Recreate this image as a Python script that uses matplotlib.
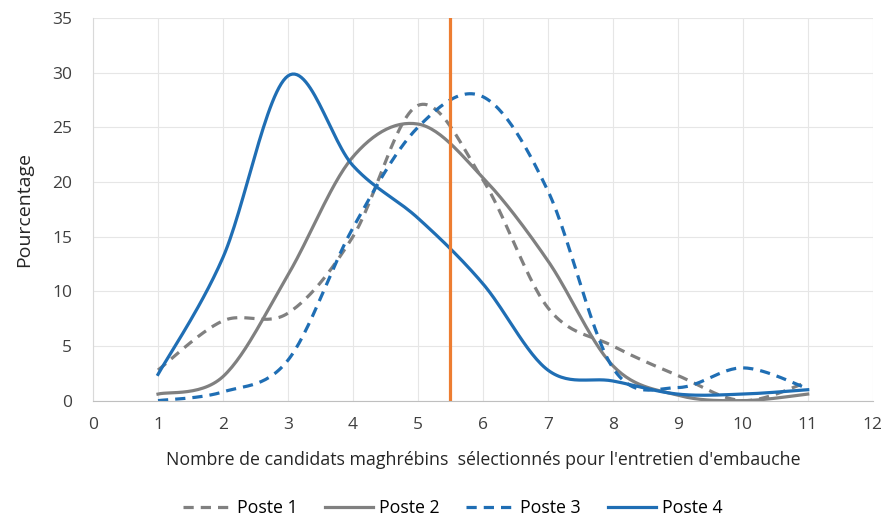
import numpy as np
import matplotlib.pyplot as plt

x = [1, 2, 3, 4, 5, 6, 7, 8, 9, 10, 11]
poste1 = [2.8, 7.3, 8.0, 15.0, 27.0, 20.2, 8.5, 5.0, 2.3, 0.0, 1.7]
poste2 = [0.6, 2.2, 11.5, 22.3, 25.3, 20.4, 12.8, 3.2, 0.5, 0.0, 0.6]
poste3 = [0.0, 0.8, 3.7, 15.8, 25.0, 27.8, 19.2, 3.0, 1.2, 3.0, 1.1]
poste4 = [2.4, 13.1, 29.7, 21.5, 16.7, 10.7, 2.8, 1.8, 0.6, 0.6, 1.0]
seuil = 5.5

labels = ["Poste 1", "Poste 2", "Poste 3", "Poste 4"]
gray = "#808080"
blue = "#1F6EB4"


def smooth(xs, ys, n=30):
    # Excel-like smoothed line: Bezier segments with Catmull-Rom control points
    pts = np.column_stack([np.asarray(xs, float), np.asarray(ys, float)])
    out = []
    t = np.linspace(0, 1, n)[:, None]
    for i in range(len(pts) - 1):
        p0 = pts[max(i - 1, 0)]
        p1 = pts[i]
        p2 = pts[i + 1]
        p3 = pts[min(i + 2, len(pts) - 1)]
        c1 = p1 + (p2 - p0) / 6
        c2 = p2 - (p3 - p1) / 6
        seg = ((1 - t) ** 3) * p1 + 3 * ((1 - t) ** 2) * t * c1 + 3 * (1 - t) * t ** 2 * c2 + t ** 3 * p2
        out.append(seg if i == 0 else seg[1:])
    out = np.vstack(out)
    return out[:, 0], out[:, 1]


plt.rcParams['font.family'] = ['Open Sans', 'DejaVu Sans']
fig = plt.figure(figsize=(8.86, 5.21), dpi=100)
ax = fig.add_axes([0.105, 0.231, 0.880, 0.7345])

styles = [(gray, (0, (3.2, 2.2))), (gray, '-'), (blue, (0, (3.2, 2.2))), (blue, '-')]
for ys, lab, (c, ls) in zip([poste1, poste2, poste3, poste4], labels, styles):
    sx, sy = smooth(x, ys)
    ax.plot(sx, sy, color=c, linestyle=ls, linewidth=2.3, label=lab)

ax.axvline(seuil, color="#ED7D31", linewidth=2.3)

ax.set_xlim(0, 12)
ax.set_ylim(0, 35)
ax.set_xticks(range(0, 13))
ax.set_yticks(range(0, 36, 5))
ax.grid(True, color="#E6E6E6", linewidth=0.8)
ax.set_axisbelow(True)
for s in ["top", "right"]:
    ax.spines[s].set_visible(False)
ax.spines["left"].set_color("#D9D9D9")
ax.spines["bottom"].set_color("#BFBFBF")
ax.tick_params(length=0, labelsize=12.5, colors="#404040")
ax.tick_params(axis="x", pad=12)
ax.tick_params(axis="y", pad=15)
ax.set_xlabel("Nombre de candidats maghrébins  sélectionnés pour l'entretien d'embauche",
              fontsize=12.8, color="#262626", labelpad=13)
ax.set_ylabel("Pourcentage", fontsize=14, color="#262626", labelpad=14)

fig.legend(loc="center", bbox_to_anchor=(0.511, 0.025), ncol=4, frameon=False,
           fontsize=12.8, handlelength=2.7, columnspacing=1.5, handletextpad=0.35)

fig.savefig("out.png", dpi=100)
